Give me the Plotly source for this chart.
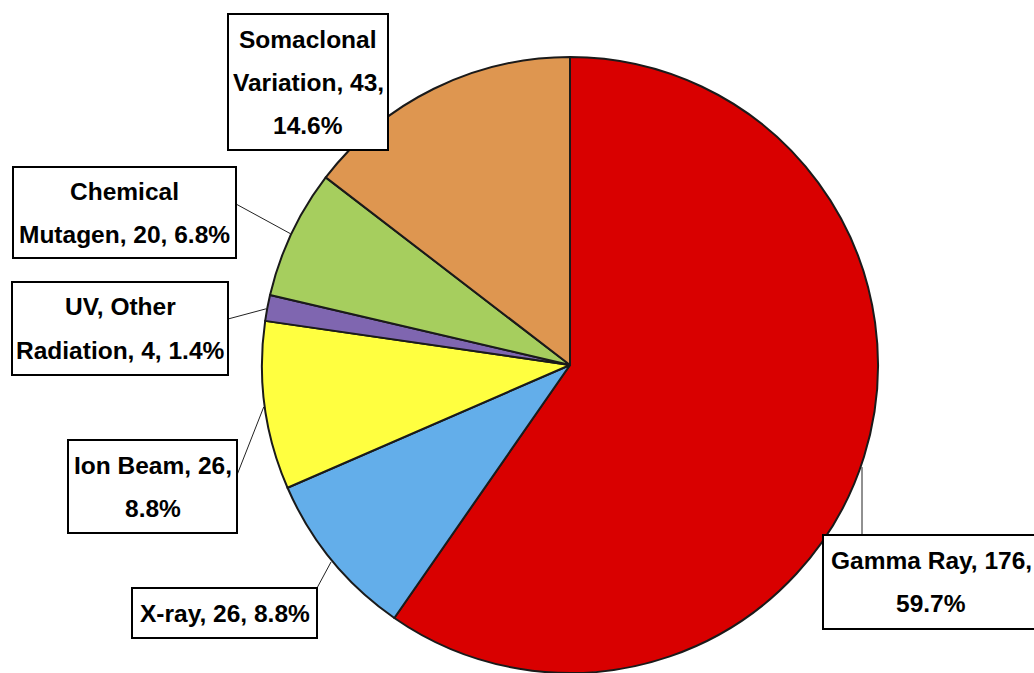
import math
import plotly.graph_objects as go

# ---- data ----
labels = ["Gamma Ray", "X-ray", "Ion Beam", "UV, Other Radiation",
          "Chemical Mutagen", "Somaclonal Variation"]
values = [176, 26, 26, 4, 20, 43]
colors = ["#D90000", "#63AEEA", "#FFFF40", "#7F66B0", "#A6CE5E", "#DE9650"]
label_lines = [
    ["Gamma Ray, 176,", "59.7%"],
    ["X-ray, 26, 8.8%"],
    ["Ion Beam, 26,", "8.8%"],
    ["UV, Other", "Radiation, 4, 1.4%"],
    ["Chemical", "Mutagen, 20, 6.8%"],
    ["Somaclonal", "Variation, 43,", "14.6%"],
]

# ---- layout (pixels) ----
W, H = 1034, 673
CX, CY, R = 570, 366, 309
# label boxes: x0, y0, x1, y1 (pixels, top-left origin)
boxes = [
    (823, 535, 1040, 629),
    (132, 588, 317, 638),
    (68, 440, 237, 533),
    (12, 282, 228, 375),
    (13, 167, 236, 258),
    (228, 14, 388, 150),
]
# leader anchor on the box (None = no leader)
anchors = [(862, 535), (317, 588), (237, 475), (228, 319), (236, 204), None]
LINE_GAP = 43

def px(x, y):
    return x / W, 1 - y / H

fig = go.Figure(go.Pie(
    labels=labels, values=values, sort=False, direction="clockwise",
    rotation=0, textinfo="none", hoverinfo="label+value+percent",
    marker=dict(colors=colors, line=dict(color="#1a1a1a", width=2)),
    domain=dict(x=[(CX - R) / W, (CX + R) / W],
                y=[max(0, 1 - (CY + R) / H), 1 - (CY - R) / H]),
    showlegend=False,
))

total = sum(values)
cum = 0
shapes, annotations = [], []
for i, v in enumerate(values):
    mid = (cum + v / 2) / total * 2 * math.pi
    cum += v
    ex, ey = CX + R * math.sin(mid), CY - R * math.cos(mid)
    if anchors[i] is not None:
        ax, ay = anchors[i]
        if i == 0:
            ex = ax
            ey = CY + math.sqrt(R * R - (ax - CX) ** 2)
        x0, y0 = px(ax, ay)
        x1, y1 = px(ex, ey)
        shapes.append(dict(type="line", xref="paper", yref="paper",
                           x0=x0, y0=y0, x1=x1, y1=y1,
                           line=dict(color="#222", width=1), layer="above"))
    bx0, by0, bx1, by1 = boxes[i]
    p0 = px(bx0, by0)
    p1 = px(bx1, by1)
    shapes.append(dict(type="rect", xref="paper", yref="paper",
                       x0=p0[0], y0=p1[1], x1=p1[0], y1=p0[1],
                       fillcolor="white", line=dict(color="black", width=2),
                       layer="above"))
    lines = label_lines[i]
    n = len(lines)
    bcx = (bx0 + bx1) / 2 if i != 0 else 931
    bcy = (by0 + by1) / 2
    for k, t in enumerate(lines):
        ty = bcy + (k - (n - 1) / 2) * LINE_GAP
        tx, tyy = px(bcx, ty)
        annotations.append(dict(
            x=tx, y=tyy, xref="paper", yref="paper", text="<b>" + t + "</b>",
            showarrow=False, xanchor="center", yanchor="middle",
            font=dict(family="Liberation Sans, Arial", size=24.5, color="black")))

fig.update_layout(
    width=W, height=H, margin=dict(l=0, r=0, t=0, b=0),
    paper_bgcolor="white", plot_bgcolor="white",
    shapes=shapes, annotations=annotations,
)
fig.write_html("out.html", config={"displayModeBar": False},
               post_script="document.body.style.margin='0px';document.body.style.overflow='hidden';")
